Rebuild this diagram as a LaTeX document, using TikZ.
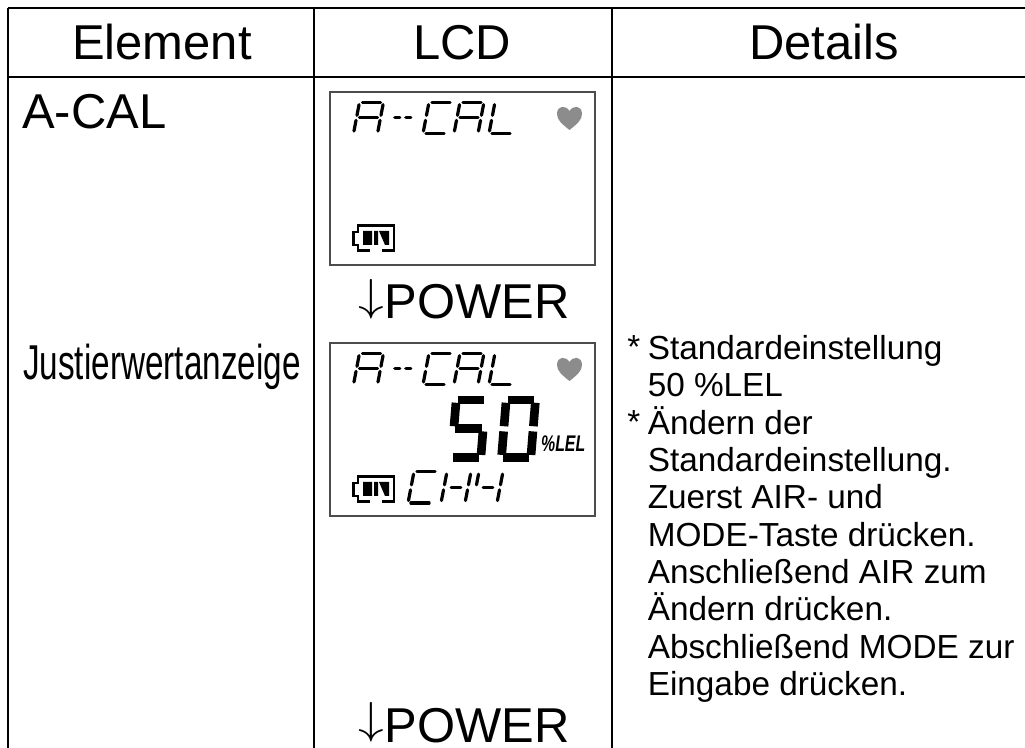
\documentclass[tikz,border=0pt]{standalone}
\usepackage{fontspec}
\setmainfont{Liberation Sans}
\usetikzlibrary{positioning}
\newcommand{\lcdchar}[3]{\begin{scope}[shift={#1},#2]
  \foreach \s in {#3} {\draw[lcdseg,lcd \s];}
\end{scope}}
\newcommand{\powerarrow}{\raisebox{6.5pt}{\fontsize{25}{25}\selectfont\scalebox{1.55}[1.35]{$\downarrow$}}}
\tikzset{
  lcd a/.style={insert path={(.12,1)--(.88,1)}},
  lcd b/.style={insert path={(1,.58)--(1,.92)}},
  lcd c/.style={insert path={(1,.08)--(1,.42)}},
  lcd d/.style={insert path={(.12,0)--(.88,0)}},
  lcd e/.style={insert path={(0,.08)--(0,.42)}},
  lcd f/.style={insert path={(0,.58)--(0,.92)}},
  lcd g/.style={insert path={(.12,.5)--(.88,.5)}},
  lcd s/.style={insert path={(.3,.5)--(.7,.5)}},
  lcdseg/.style={line width=2.4pt,line cap=round,black},
  small char/.style={x=18pt,y={(4.5pt,23.5pt)}},
  dash char/.style={x=5pt,y={(4.5pt,23.5pt)}},
  big char/.style={x=22pt,y={(3.5pt,43pt)},lcdseg/.append style={line width=6.5pt,line cap=butt,black,shorten >=-1.5pt,shorten <=-1.5pt}},
  tablerule/.style={line width=1.8pt,black},
  headtext/.style={font=\fontsize{36.7}{38}\selectfont,anchor=base},
  lefttext/.style={font=\fontsize{36.7}{38}\selectfont,anchor=base west,inner sep=0pt},
  detailtext/.style={font=\fontsize{25}{28}\selectfont,align=left,inner sep=0pt},
  lcdbox/.style={draw=black!70,line width=1.5pt,minimum width=198.75pt,minimum height=129.75pt,inner sep=0pt},
  lcdheart/.style={fill=black!45,draw=none},
  pics/lcdbase/.style={code={
    \lcdchar{(53.5,42.5)}{small char}{a,b,c,e,f,g}
    \lcdchar{(91,42.5)}{dash char}{g}
    \lcdchar{(102,42.5)}{dash char}{g}
    \lcdchar{(123,42.5)}{small char}{a,d,e,f}
    \lcdchar{(154,42.5)}{small char}{a,b,c,e,f,g}
    \lcdchar{(189,42.5)}{small char}{d,e,f}
    \fill[lcdheart] (269.5,39) .. controls (262,33) and (257,29) .. (257,23)
      .. controls (257,14) and (266,14) .. (269.5,20)
      .. controls (273,14) and (282,14) .. (282,23)
      .. controls (282,29) and (277,33) .. (269.5,39) -- cycle;
    \draw[line width=1.9pt,black] (70,159.5) -- (58,159.5) -- (58,154) -- (53.5,154) -- (53.5,141)
      -- (58,141) -- (58,134.5) -- (94,134.5) -- (94,159.5) -- (82,159.5);
    \fill[black] (63,140) rectangle (72,154) (74,140) rectangle (78,154)
      (79,140) -- (89,140) -- (89,154) -- (85,154) -- cycle;
  }}
}
\begin{document}
\begin{tikzpicture}
[x=.75pt,y=-.75pt,>=stealth]
\useasboundingbox (0,0) rectangle (1025,748);
%% table rules
\coordinate (tl) at (8,8);
\coordinate (tr) at (1025,8);
\coordinate (hl) at (8,77);
\coordinate (hr) at (1025,77);
\coordinate (bl) at (8,748);
\coordinate (c1t) at (314,8);
\coordinate (c1b) at (314,748);
\coordinate (c2t) at (612,8);
\coordinate (c2b) at (612,748);
\draw[tablerule] (tl) -- (tr) (hl) -- (hr) (tl) -- (bl) (c1t) -- (c1b) (c2t) -- (c2b);
%% header
\node[headtext] (element) at (162,60) {Element};
\node[headtext] (lcd) at (462,60) {LCD};
\node[headtext] (details) at (824,60) {Details};
%% left column
\node[lefttext] (acal) at (22,129) {A-CAL};
\node[lefttext,xscale=.68] (justier) at (23,380) {Justierwertanzeige};
%% lcd screens
\node[lcdbox,anchor=north west] (screen1) at (329,91) {};
\node[lcdbox,anchor=north west] (screen2) at (329,342) {};
\pic at (300,91) {lcdbase};
\pic at (300,342) {lcdbase};
%% big digits and second line
\lcdchar{(451.5,457.5)}{big char}{a,c,d,f,g}
\lcdchar{(501.5,457.5)}{big char}{a,b,c,d,e,f}
\node[font=\bfseries\itshape\fontsize{17}{17}\selectfont,anchor=base west,inner sep=0pt,xscale=.7] (unit) at (541,452) {\%LEL};
\lcdchar{(408,503)}{small char}{a,d,e,f}
\lcdchar{(441,503)}{small char}{b,c,e,f,s}
\lcdchar{(473,503)}{small char}{b,c,f,s}
%% power labels
\node[lefttext] (power1) at (358.5,319) {\powerarrow POWER};
\node[lefttext] (power2) at (358.5,742) {\powerarrow POWER};
%% details
\node[detailtext,anchor=base west] (star1) at (627,359) {*};
\node[detailtext,anchor=base west] (star2) at (627,434) {*};
\node[detailtext,anchor=north west] (notes) at (647.5,335) {Standardeinstellung\\50 \%LEL\\Ändern der\\Standardeinstellung.\\Zuerst AIR- und\\MODE-Taste drücken.\\Anschließend AIR zum\\Ändern drücken.\\Abschließend MODE zur\\Eingabe drücken.};
\end{tikzpicture}
\end{document}
